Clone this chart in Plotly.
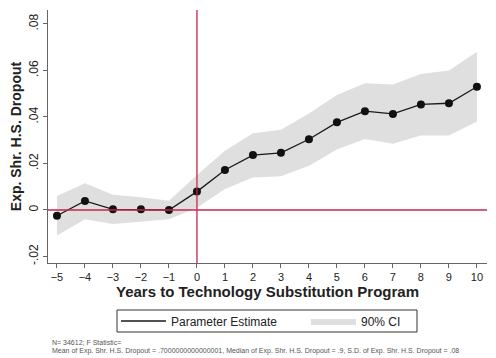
import plotly.graph_objects as go

years = [-5, -4, -3, -2, -1, 0, 1, 2, 3, 4, 5, 6, 7, 8, 9, 10]
estimate = [-0.0025, 0.0039, 0.0003, 0.0003, 0.0, 0.0079, 0.0172, 0.0236, 0.0246, 0.0304,
            0.0377, 0.0425, 0.0413, 0.0454, 0.0459, 0.0530]
ci_upper = [0.0060, 0.0115, 0.0065, 0.0055, 0.0040, 0.0150, 0.0255, 0.0330, 0.0345, 0.0415,
            0.0495, 0.0545, 0.0540, 0.0585, 0.0600, 0.0680]
ci_lower = [-0.0110, -0.0040, -0.0060, -0.0050, -0.0040, 0.0010, 0.0090, 0.0140, 0.0145, 0.0190,
            0.0260, 0.0305, 0.0285, 0.0320, 0.0320, 0.0380]
ytick_vals = [-0.02, 0, 0.02, 0.04, 0.06, 0.08]
ytick_text = ["-.02", "0", ".02", ".04", ".06", ".08"]
xtick_vals = list(range(-5, 11))

FONT = "Liberation Sans, Arial, sans-serif"
RED = "#c8234e"

fig = go.Figure()

# CI band
fig.add_trace(go.Scatter(x=years, y=ci_upper, mode="lines", line=dict(width=0),
                         showlegend=False, hoverinfo="skip"))
fig.add_trace(go.Scatter(x=years, y=ci_lower, mode="lines", line=dict(width=0),
                         fill="tonexty", fillcolor="rgba(200,200,200,0.58)",
                         name="90% CI", legend="legend2"))

# estimate line (legend shows line only) and markers
fig.add_trace(go.Scatter(x=years, y=estimate, mode="lines",
                         line=dict(color="#1a1a1a", width=1.3),
                         name="Parameter Estimate", legend="legend"))
fig.add_trace(go.Scatter(x=years, y=estimate, mode="markers",
                         marker=dict(color="#111111", size=8),
                         showlegend=False, name="Parameter Estimate"))

fig.add_shape(type="line", xref="x", yref="paper", x0=0, x1=0, y0=0, y1=1,
              line=dict(color=RED, width=1.3))
fig.add_shape(type="line", xref="paper", yref="y", x0=0, x1=1, y0=0, y1=0,
              line=dict(color=RED, width=1.3))

# legend frame (figure px: x 109-409, y 302-324; plot area x 40-479, y 2-255)
def px_x(p):
    return (p - 40) / 439.0

def px_y(p):
    return (255 - p) / 253.0

fig.add_shape(type="rect", xref="paper", yref="paper",
              x0=px_x(109), x1=px_x(409), y0=px_y(324), y1=px_y(302),
              line=dict(color="#333", width=1), fillcolor="rgba(0,0,0,0)")

leg_common = dict(orientation="h", yanchor="middle", y=px_y(313), xanchor="left",
                  bgcolor="rgba(0,0,0,0)", borderwidth=0, font=dict(size=12, color="#222"),
                  itemwidth=45)

fig.update_layout(
    width=488, height=350,
    margin=dict(l=40, r=9, t=2, b=95, autoexpand=False),
    paper_bgcolor="white", plot_bgcolor="white",
    font=dict(family=FONT, color="#222"),
    showlegend=True,
    legend=dict(x=px_x(108), **leg_common),
    legend2=dict(x=px_x(298), **leg_common),
    xaxis=dict(range=[-5.32, 10.36], tickvals=xtick_vals, ticks="outside", ticklen=4,
               tickcolor="#666", showline=True, linecolor="#666", linewidth=1,
               showgrid=False, zeroline=False, tickfont=dict(size=11, color="#222"),
               automargin=False,
               title=dict(text="<b>Years to Technology Substitution Program</b>",
                          font=dict(size=15, color="#222"), standoff=4)),
    yaxis=dict(range=[-0.0228, 0.086], tickvals=ytick_vals, ticktext=ytick_text,
               tickangle=-90, ticks="outside", ticklen=4, tickcolor="#666",
               showline=True, linecolor="#666", linewidth=1,
               showgrid=False, zeroline=False, tickfont=dict(size=12, color="#222"),
               automargin=False,
               title=dict(text="<b>Exp. Shr. H.S. Dropout</b>",
                          font=dict(size=14, color="#222"), standoff=4)),
)

fig.add_annotation(xref="paper", yref="paper", x=px_x(42), y=px_y(329), xanchor="left", yanchor="top",
                   text="N= 34612; F Statistic=", showarrow=False,
                   font=dict(size=7, color="#555"))
fig.add_annotation(xref="paper", yref="paper", x=px_x(42), y=px_y(337), xanchor="left", yanchor="top",
                   text="Mean of Exp. Shr. H.S. Dropout = .7000000000000001, Median of Exp. Shr. H.S. Dropout = .9, S.D. of Exp. Shr. H.S. Dropout = .08",
                   showarrow=False, font=dict(size=7, color="#555"))

fig.write_html("out.html")
